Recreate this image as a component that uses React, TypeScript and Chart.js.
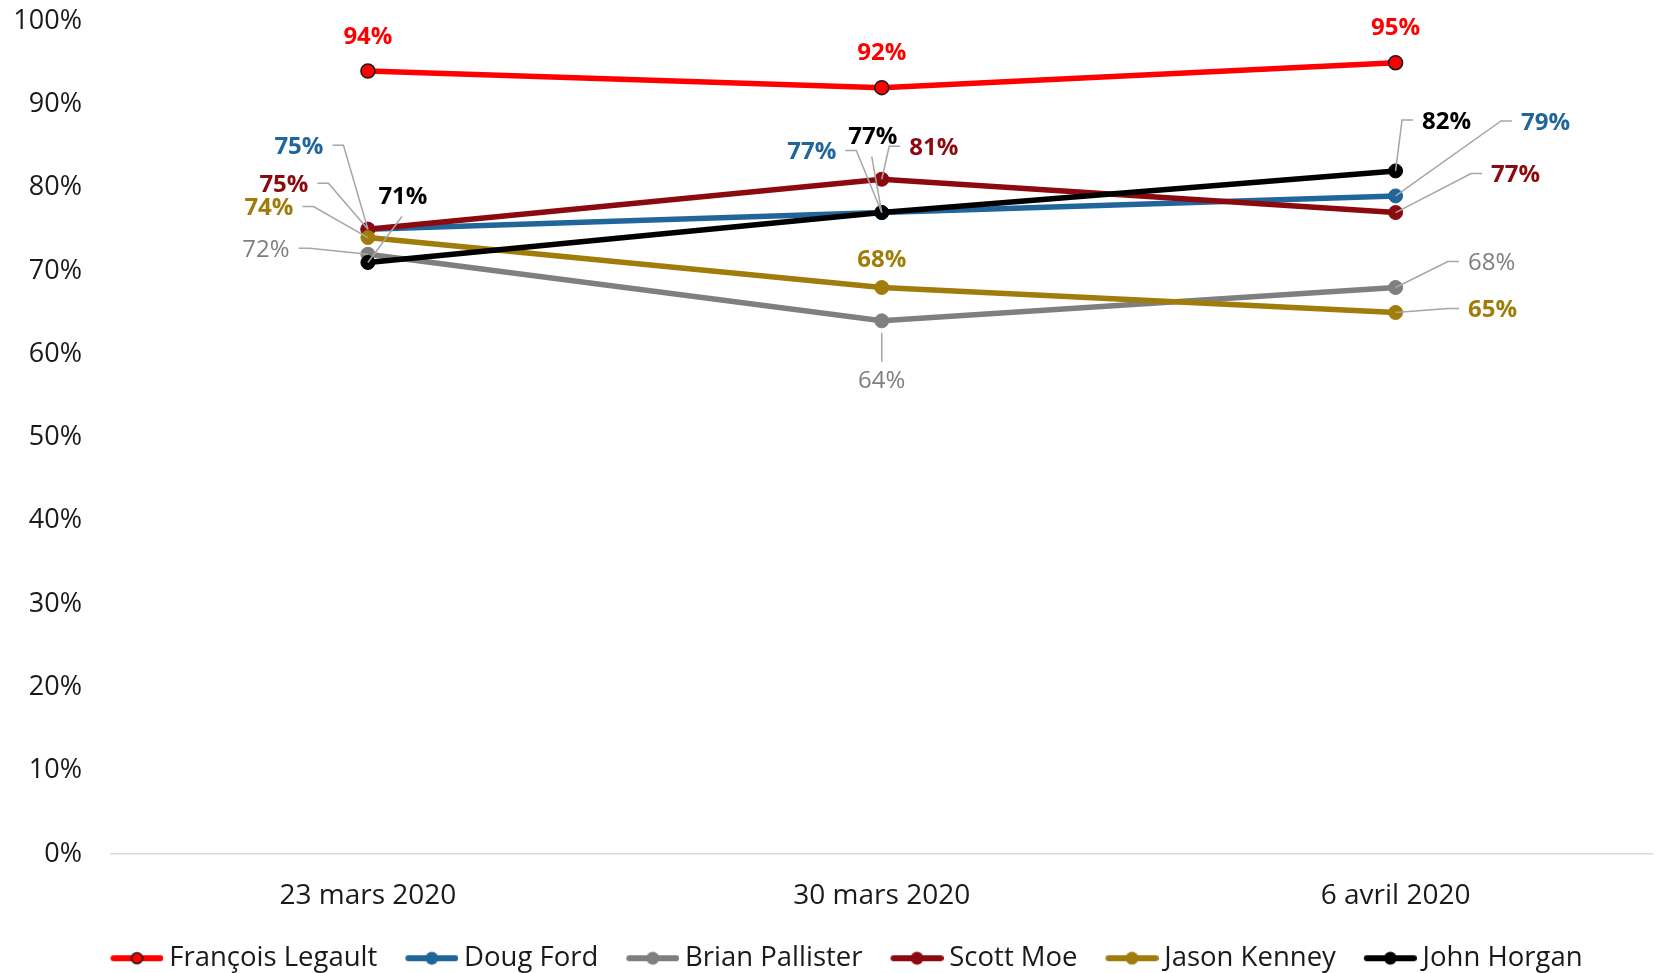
import React, { useEffect, useRef } from "react";
import { Chart, registerables } from "chart.js";

Chart.register(...registerables);

const categories = ["23 mars 2020", "30 mars 2020", "6 avril 2020"];
const seriesNames = ["François Legault", "Doug Ford", "Brian Pallister", "Scott Moe", "Jason Kenney", "John Horgan"];
const legault = [94, 92, 95];
const ford = [75, 77, 79];
const pallister = [72, 64, 68];
const moe = [75, 81, 77];
const kenney = [74, 68, 65];
const horgan = [71, 77, 82];
const seriesValues = [legault, ford, pallister, moe, kenney, horgan];
const seriesColors = ["#FF0000", "#21669B", "#7F7F7F", "#8B0A10", "#A07C0B", "#000000"];
const yMin = 0;
const yMax = 100;
const yStep = 10;

const FONT = "'Open Sans', sans-serif";

type Placement = { dx: number; dy: number; leader: "none" | "left" | "right" | "above" | "below"; bold: boolean };

// label placement relative to each point (styling only)
const PLACEMENTS: Placement[][] = [
  [
    { dx: 0, dy: -34, leader: "none", bold: true },
    { dx: 0, dy: -34, leader: "none", bold: true },
    { dx: 0, dy: -34, leader: "none", bold: true },
  ],
  [
    { dx: -69, dy: -82, leader: "left", bold: true },
    { dx: -70, dy: -60, leader: "left", bold: true },
    { dx: 150, dy: -73, leader: "right", bold: true },
  ],
  [
    { dx: -102, dy: -4, leader: "left", bold: false },
    { dx: 0, dy: 60, leader: "below", bold: false },
    { dx: 96, dy: -24, leader: "right", bold: false },
  ],
  [
    { dx: -84, dy: -44, leader: "left", bold: true },
    { dx: 52, dy: -31, leader: "right", bold: true },
    { dx: 120, dy: -37, leader: "right", bold: true },
  ],
  [
    { dx: -99, dy: -29, leader: "left", bold: true },
    { dx: 0, dy: -27, leader: "none", bold: true },
    { dx: 97, dy: -2, leader: "right", bold: true },
  ],
  [
    { dx: 35, dy: -65, leader: "above", bold: true },
    { dx: -9, dy: -75, leader: "above", bold: true },
    { dx: 51, dy: -49, leader: "right", bold: true },
  ],
];

function makeLegendMarker(color: string, outlined: boolean): HTMLCanvasElement {
  const c = document.createElement("canvas");
  c.width = 82;
  c.height = 18;
  const g = c.getContext("2d")!;
  g.strokeStyle = color;
  g.lineWidth = 6;
  g.lineCap = "round";
  g.beginPath();
  g.moveTo(32, 9);
  g.lineTo(79, 9);
  g.stroke();
  g.beginPath();
  g.arc(55.5, 9, outlined ? 5.5 : 6.5, 0, Math.PI * 2);
  g.fillStyle = color;
  g.fill();
  if (outlined) {
    g.lineWidth = 1.5;
    g.strokeStyle = "#1a1a1a";
    g.stroke();
  }
  return c;
}

const labelPlugin = {
  id: "pointValueLabels",
  afterDatasetsDraw(chart: any) {
    const ctx: CanvasRenderingContext2D = chart.ctx;
    chart.data.datasets.forEach((ds: any, i: number) => {
      const meta = chart.getDatasetMeta(i);
      meta.data.forEach((pt: any, j: number) => {
        const p = PLACEMENTS[i][j];
        const text = ds.data[j] + "%";
        ctx.save();
        ctx.font = `${p.bold ? "bold " : ""}24px ${FONT}`;
        const w = ctx.measureText(text).width;
        const cx = pt.x + p.dx;
        const cy = pt.y + p.dy;
        ctx.strokeStyle = "#A6A6A6";
        ctx.lineWidth = 1.5;
        ctx.beginPath();
        if (p.leader === "left") {
          const sx = cx + w / 2 + 9;
          ctx.moveTo(sx, cy - 2);
          ctx.lineTo(sx + 11, cy - 2);
          ctx.lineTo(pt.x, pt.y);
        } else if (p.leader === "right") {
          const sx = cx - w / 2 - 9;
          ctx.moveTo(sx, cy - 2);
          ctx.lineTo(sx - 11, cy - 2);
          ctx.lineTo(pt.x, pt.y);
        } else if (p.leader === "above") {
          ctx.moveTo(cx - 1, cy + 19);
          ctx.lineTo(pt.x, pt.y);
        } else if (p.leader === "below") {
          ctx.moveTo(cx, cy - 19);
          ctx.lineTo(pt.x, pt.y + 12);
        }
        if (p.leader !== "none") ctx.stroke();
        ctx.fillStyle = ds.borderColor;
        ctx.textAlign = "center";
        ctx.textBaseline = "middle";
        ctx.fillText(text, cx, cy);
        ctx.restore();
      });
    });
  },
};

// shift the legend block slightly right, as in the reference
const legendShiftPlugin = {
  id: "legendShift",
  afterLayout(chart: any) {
    const lg = chart.legend;
    if (lg) {
      lg.left += 13;
    }
  },
};

export default function App() {
  const canvasRef = useRef<HTMLCanvasElement | null>(null);

  useEffect(() => {
    document.body.style.margin = "0";
    const canvas = canvasRef.current;
    if (!canvas) return;
    const markers = seriesColors.map((c, i) => makeLegendMarker(c, i === 0));

    const chart = new Chart(canvas, {
      type: "line",
      data: {
        labels: categories,
        datasets: seriesNames.map((name, i) => ({
          label: name,
          data: seriesValues[i],
          borderColor: seriesColors[i],
          backgroundColor: seriesColors[i],
          pointBackgroundColor: seriesColors[i],
          pointBorderColor: i === 0 ? "#1a1a1a" : seriesColors[i],
          pointBorderWidth: i === 0 ? 1.5 : 1,
          pointRadius: 7,
          borderWidth: 5.5,
          tension: 0,
          fill: false,
          order: seriesNames.length - i,
        })),
      },
      options: {
        responsive: false,
        animation: false,
        layout: { padding: { top: 21, right: 2, bottom: -9, left: 0 } },
        scales: {
          x: {
            type: "category",
            offset: true,
            grid: { display: false, drawTicks: false },
            border: { display: true, color: "#D9D9D9", width: 1.5 },
            ticks: { padding: 25, color: "#1a1a1a", font: { family: FONT, size: 28 } },
          },
          y: {
            min: yMin,
            max: yMax,
            grid: { display: false, drawTicks: true, tickLength: 29 },
            border: { display: false },
            ticks: {
              stepSize: yStep,
              padding: 0,
              color: "#1a1a1a",
              font: { family: FONT, size: 27 },
              callback: (v: any) => v + "%",
            },
            afterFit: (scale: any) => {
              scale.width = 111;
            },
          },
        },
        plugins: {
          tooltip: { enabled: false },
          legend: {
            display: true,
            position: "bottom",
            labels: {
              usePointStyle: true,
              pointStyleWidth: 66,
              padding: 7,
              color: "#1a1a1a",
              font: { family: FONT, size: 27.5 },
              sort: (a: any, b: any) => a.datasetIndex - b.datasetIndex,
              generateLabels: (ch: any) => {
                const items = Chart.defaults.plugins.legend.labels.generateLabels(ch);
                return items.map((it: any) => ({ ...it, pointStyle: markers[it.datasetIndex] }));
              },
            },
          },
        },
      },
      plugins: [labelPlugin, legendShiftPlugin],
    } as any);

    return () => chart.destroy();
  }, []);

  return (
    <div style={{ width: 1661, height: 973, position: "relative" }}>
      <canvas ref={canvasRef} width={1661} height={973} />
    </div>
  );
}
